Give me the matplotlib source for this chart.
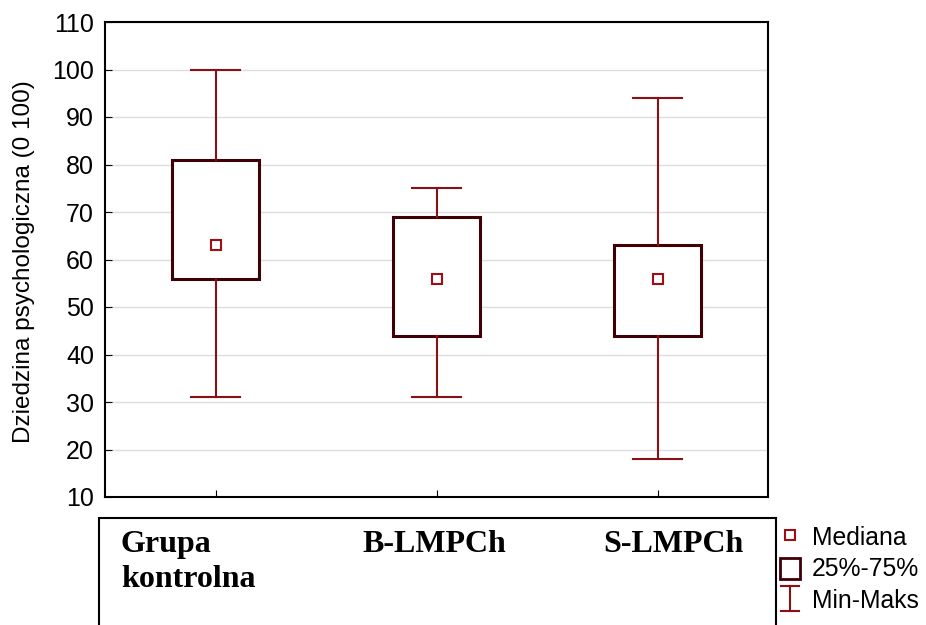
import matplotlib
matplotlib.use("Agg")
from matplotlib import pyplot as plt
from matplotlib.patches import Rectangle
from matplotlib.lines import Line2D

plt.rcParams["font.family"] = ["Liberation Sans", "DejaVu Sans"]

# values
groups = ["Grupa\nkontrolna", "B-LMPCh", "S-LMPCh"]
mins = [31, 31, 18]
q1s = [56, 44, 44]
medians = [63, 56, 56]
q3s = [81, 69, 63]
maxs = [100, 75, 94]
y_ticks = list(range(10, 111, 10))

box_col = "#3f0006"
whisk_col = "#8b0f14"
med_col = "#a00d12"

fig = plt.figure(figsize=(9.26, 6.25), dpi=100)
ax = fig.add_axes([105 / 926, 1 - 497 / 625, 663 / 926, 475 / 625])

stats = []
for i in range(len(groups)):
    stats.append(dict(med=medians[i], q1=q1s[i], q3=q3s[i],
                      whislo=mins[i], whishi=maxs[i], fliers=[]))

pos = [1, 2, 3]
ax.bxp(stats, positions=pos, widths=0.395, capwidths=0.225,
       showfliers=False, patch_artist=True,
       boxprops=dict(facecolor="white", edgecolor=box_col, linewidth=2.2),
       whiskerprops=dict(color=whisk_col, linewidth=1.5),
       capprops=dict(color=whisk_col, linewidth=1.5),
       medianprops=dict(linestyle="none"), zorder=3)
ax.plot(pos, medians, linestyle="none", marker="s", markersize=7,
        markerfacecolor="white", markeredgecolor=med_col, markeredgewidth=1.5, zorder=4)

ax.set_xlim(0.5, 3.5)
ax.set_ylim(10, 110)
ax.set_yticks(y_ticks)
ax.tick_params(axis="y", labelsize=18, direction="in", length=5, pad=8)
ax.set_xticks(pos)
ax.set_xticklabels([])
ax.tick_params(axis="x", direction="in", length=5)
ax.yaxis.grid(True, color="#dddddd", linewidth=1)
ax.set_axisbelow(True)
for s in ax.spines.values():
    s.set_linewidth(1.5)
fig.text(24 / 926, 1 - 262 / 625, "Dziedzina psychologiczna (0 100)", rotation=90,
         ha="center", va="center", fontsize=17.5)

# white box with the group names below the plot
fig.patches.append(Rectangle((99 / 926, -0.05), 677 / 926, 1 - 518 / 625 + 0.05,
                             transform=fig.transFigure, facecolor="white",
                             edgecolor="black", linewidth=1.5, zorder=5))
xs = [121, 362, 603]
for x, name in zip(xs, groups):
    for k, line in enumerate(name.split("\n")):
        fig.text(x / 926, 1 - (552 + 35 * k) / 625, line, ha="left", va="baseline",
                 fontsize=23, fontweight="bold", family="Liberation Serif", zorder=6)

# legend
lx = 790 / 926
fig.add_artist(Line2D([lx], [1 - 535 / 625], marker="s", markersize=7,
                      markerfacecolor="white", markeredgecolor=med_col,
                      markeredgewidth=1.5, transform=fig.transFigure))
fig.add_artist(Rectangle((780 / 926, 1 - 579 / 625), 20 / 926, 21 / 625,
                         transform=fig.transFigure, facecolor="white",
                         edgecolor=box_col, linewidth=2))
fig.add_artist(Line2D([lx, lx], [1 - 586 / 625, 1 - 611 / 625],
                      color=whisk_col, linewidth=1.5, transform=fig.transFigure))
fig.add_artist(Line2D([lx - 9 / 926, lx + 9 / 926], [1 - 586 / 625] * 2,
                      color=whisk_col, linewidth=1.5, transform=fig.transFigure))
fig.add_artist(Line2D([lx - 9 / 926, lx + 9 / 926], [1 - 611 / 625] * 2,
                      color=whisk_col, linewidth=1.5, transform=fig.transFigure))
for y, t in [(538, "Mediana"), (569, "25%-75%"), (601, "Min-Maks")]:
    fig.text(812 / 926, 1 - y / 625, t, fontsize=17.8, va="center", ha="left")

fig.savefig("out.png", dpi=100)
